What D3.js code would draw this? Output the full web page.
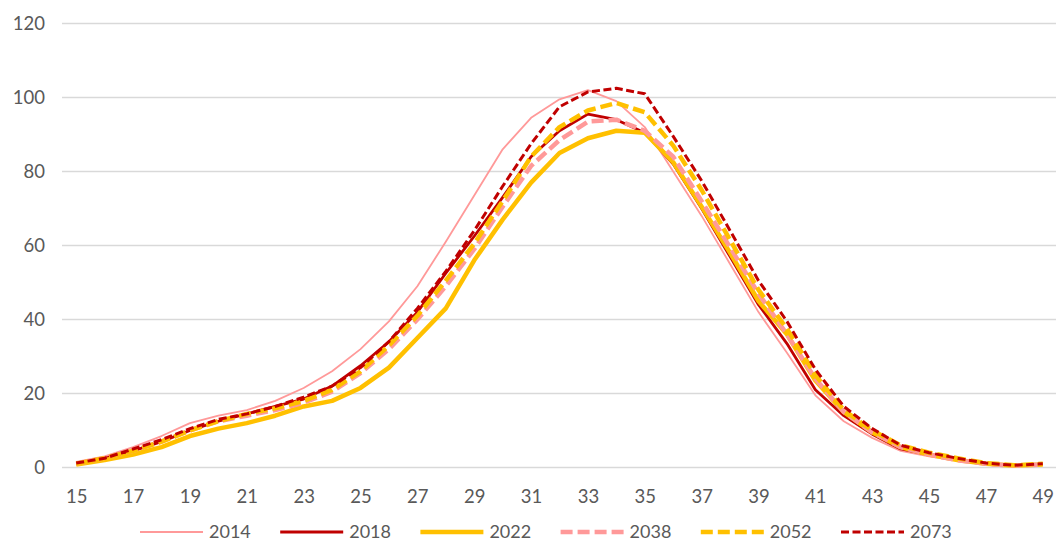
<!DOCTYPE html>
<html>
<head>
<meta charset="utf-8">
<script src="https://cdn.jsdelivr.net/npm/d3@7"></script>
<style>
  body { margin: 0; background: #fff; }
  svg text { font-family: Lato, "Open Sans", sans-serif; fill: #595959; }
</style>
</head>
<body>
<script>
"use strict"

const ages = [15, 16, 17, 18, 19, 20, 21, 22, 23, 24, 25, 26, 27, 28, 29, 30, 31, 32,
   33, 34, 35, 36, 37, 38, 39, 40, 41, 42, 43, 44, 45, 46, 47, 48, 49]
const yTicks = [0, 20, 40, 60, 80, 100, 120]
const seriesNames = ['2014', '2018', '2022', '2038', '2052', '2073']

const v2014 = [1.5, 3, 5.5, 8.5, 12, 14, 15.5, 18, 21.5, 26, 32, 39.5, 49, 61, 73.5, 86, 94.5, 99.5,
   102, 99, 92, 80, 68, 55, 42, 31, 19.5, 12.5, 8, 4.5, 3, 1.8, 0.8, 0.4, 0.8]
const v2018 = [1, 2.5, 4.5, 7, 10, 12.5, 14.5, 16.5, 18.5, 22, 27.5, 34, 42, 52.5, 62.5, 73, 84, 91,
   95.5, 94, 90.5, 82, 70, 57, 44, 33.5, 21, 14, 9, 5, 3.5, 2, 1, 0.5, 0.8]
const v2022 = [0.8, 2, 3.5, 5.5, 8.5, 10.5, 12, 14, 16.5, 18, 21.5, 27, 35, 43, 56, 67, 77, 85,
   89, 91, 90.5, 82.5, 70.5, 58, 45, 36, 23.5, 15, 9.5, 5.5, 3.5, 2, 1, 0.5, 0.8]
const v2038 = [1, 2.5, 4.5, 7, 10, 12.5, 14, 15.5, 17.5, 20.5, 25.5, 32, 40, 49, 59, 70.5, 81.5, 88.5,
   93.5, 94, 91, 84, 72, 59.5, 47, 36, 24, 15, 9.5, 5.5, 3.5, 2, 1, 0.5, 0.8]
const v2052 = [1, 2.5, 4.5, 7, 10, 12.5, 14.5, 16, 18, 21, 26, 33, 41, 50.5, 60.5, 72, 84, 92,
   96.5, 98.5, 96, 87, 75, 61.5, 48, 37.5, 25, 15.5, 10, 6, 4, 2.5, 1.2, 0.6, 1]
const v2073 = [1.2, 2.5, 5, 7.5, 10.5, 13, 14.5, 16.5, 19, 22, 27, 34, 43, 53, 64, 76, 87.5, 97.5,
   101.5, 102.5, 101, 89.5, 77.5, 64, 50.5, 39.5, 26.5, 16.5, 10.5, 6, 4, 2.5, 1.2, 0.6, 1]

const w = 1056
const h = 542

// styles per series, same order as seriesNames
const styles = [
   { color: '#FF9999', width: 1.8, dash: null },
   { color: '#C00000', width: 2.8, dash: null },
   { color: '#FFC000', width: 4.5, dash: null },
   { color: '#FF9999', width: 4.5, dash: '12 5' },
   { color: '#FFC000', width: 4.5, dash: '12 5' },
   { color: '#C00000', width: 3, dash: '8 3.5' }
]
const values = [v2014, v2018, v2022, v2038, v2052, v2073]

const x_scale = d3.scalePoint(ages, [62, 1057]).padding(0.5)
const y_scale = d3.scaleLinear([0, 120], [467.5, 23.5])

let svg = d3.select('body')
   .append('svg')
      .attr('width', w)
      .attr('height', h)

// gridlines
svg.append('g')
   .selectAll('line')
   .data(yTicks)
   .enter()
   .append('line')
      .attr('x1', 62)
      .attr('x2', 1056)
      .attr('y1', d => y_scale(d))
      .attr('y2', d => y_scale(d))
      .attr('stroke', '#D9D9D9')
      .attr('stroke-width', 1.3)

const y_axis = d3.axisLeft(y_scale).tickValues(yTicks).tickSize(0).tickPadding(0)
svg.append('g')
   .attr('transform', 'translate(45, 0)')
   .call(y_axis)
   .call(g => g.select('.domain').remove())
   .selectAll('text')
      .attr('font-size', 18.5)
      .attr('font-family', null)

const x_axis = d3.axisBottom(x_scale)
   .tickValues(ages.filter(a => a % 2 === 1))
   .tickSize(0)
   .tickPadding(0)
svg.append('g')
   .attr('transform', 'translate(0, 490)')
   .call(x_axis)
   .call(g => g.select('.domain').remove())
   .selectAll('text')
      .attr('font-size', 18.5)
      .attr('font-family', null)

const line = d3.line()
   .x((d, i) => x_scale(ages[i]))
   .y(d => y_scale(d))

values.forEach((vals, i) => {
   svg.append('path')
      .datum(vals)
      .attr('d', line)
      .attr('fill', 'none')
      .attr('stroke', styles[i].color)
      .attr('stroke-width', styles[i].width)
      .attr('stroke-dasharray', styles[i].dash)
      .attr('stroke-linejoin', 'round')
})

// legend
let legend = svg.append('g')
   .selectAll('g')
   .data(seriesNames)
   .enter()
   .append('g')
      .attr('transform', (d, i) => `translate(${140 + i * 140.2}, 532)`)

legend.append('line')
   .attr('x1', 0)
   .attr('x2', 63)
   .attr('stroke', (d, i) => styles[i].color)
   .attr('stroke-width', (d, i) => styles[i].width)
   .attr('stroke-dasharray', (d, i) => styles[i].dash)

legend.append('text')
   .attr('x', 69)
   .attr('dy', '0.35em')
   .attr('font-size', 18)
   .text(d => d)
</script>
</body>
</html>
